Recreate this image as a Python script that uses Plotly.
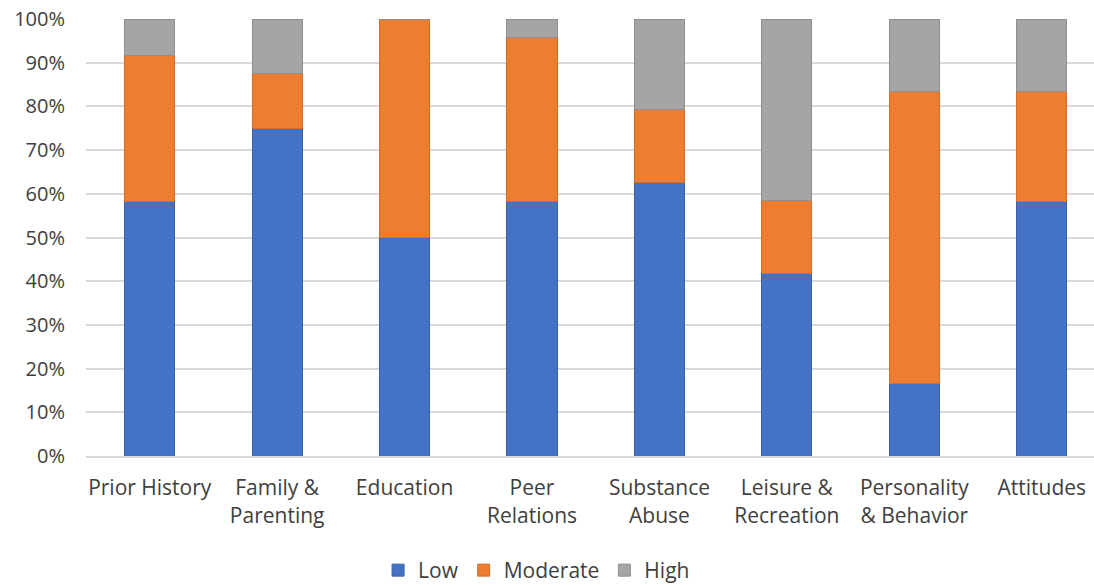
import plotly.graph_objects as go

categories = ["Prior History", "Family &<br>Parenting", "Education", "Peer<br>Relations",
              "Substance<br>Abuse", "Leisure &<br>Recreation", "Personality<br>& Behavior", "Attitudes"]
low = [58.3, 75.0, 50.0, 58.3, 62.5, 41.7, 16.7, 58.3]
moderate = [33.3, 12.5, 50.0, 37.5, 16.7, 16.7, 66.7, 25.0]
high = [8.4, 12.5, 0.0, 4.2, 20.8, 41.6, 16.6, 16.7]
tick_vals = [0, 10, 20, 30, 40, 50, 60, 70, 80, 90, 100]
tick_text = [f"{v}%" for v in tick_vals]

series = [("Low", low, "#4472C4", "#3A62A8"),
          ("Moderate", moderate, "#ED7D31", "#D26C28"),
          ("High", high, "#A5A5A5", "#8F8F8F")]

fig = go.Figure()
for name, vals, col, lc in series:
    fig.add_trace(go.Bar(x=list(range(len(categories))), y=vals, name=name,
                         marker=dict(color=col, line=dict(color=lc, width=1))))

fig.update_layout(
    width=1094, height=585,
    barmode="stack", bargap=0.607,
    plot_bgcolor="white", paper_bgcolor="white",
    font=dict(family="Open Sans, Noto Sans, sans-serif", size=20, color="#404040"),
    margin=dict(l=86, r=0, t=19, b=129, autoexpand=False),
    showlegend=True,
    legend=dict(orientation="h", x=0.447, xanchor="center", y=-0.262, yanchor="middle",
                font=dict(size=21, color="#404040"), traceorder="normal", itemwidth=30),
    xaxis=dict(tickmode="array", tickvals=list(range(len(categories))), ticktext=categories,
               range=[-0.5, 7.41], showgrid=False, showline=True, linecolor="#D9D9D9",
               linewidth=2, ticks="", ticklabelstandoff=12, tickfont=dict(size=21),
               automargin=False),
    yaxis=dict(range=[0, 100], tickmode="array", tickvals=tick_vals, ticktext=tick_text,
               showgrid=True, gridcolor="#D9D9D9", gridwidth=2, zeroline=False,
               ticks="", ticklabelstandoff=20, tickfont=dict(size=20), automargin=False),
)

fig.write_html("out.html")
